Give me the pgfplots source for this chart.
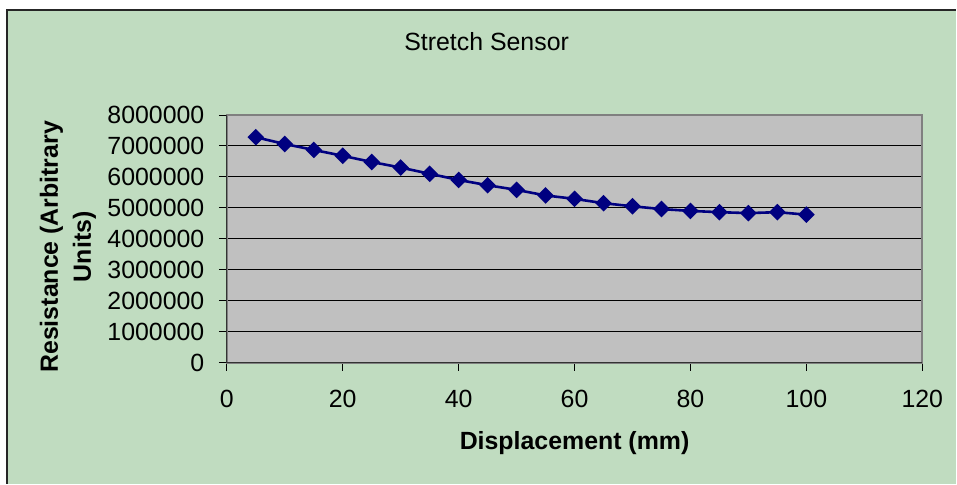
\documentclass[border=0pt]{standalone}
\usepackage{pgfplots}
\pgfplotsset{compat=1.18}
\usepackage{fontspec}
\setmainfont{Liberation Sans}
\definecolor{chartbg}{RGB}{192,220,192}
\definecolor{plotbg}{RGB}{192,192,192}
\definecolor{series}{RGB}{0,0,128}
\begin{document}
\begin{tikzpicture}
% chart area
\fill[white] (0bp,0bp) rectangle (957bp,484bp);
\fill[chartbg] (7bp,0bp) rectangle (957bp,474bp);
\draw[line width=1.5bp, black!85] (7bp,0bp) -- (7bp,474bp) -- (957bp,474bp);
\begin{axis}[
    at={(227bp,121bp)}, anchor=south west,
    scale only axis, width=696bp, height=248bp,
    xmin=0, xmax=120, ymin=0, ymax=8000000,
    xtick={0,20,...,120},
    ytick={0,1000000,...,8000000},
    scaled y ticks=false,
    yticklabel style={/pgf/number format/fixed, /pgf/number format/1000 sep={}, xshift=-11bp},
    xticklabel style={yshift=-16bp},
    /pgf/number format/assume math mode=true,
    tick label style={font=\fontsize{25}{30}\selectfont, text=black},
    tick align=outside, tick pos=left,
    major tick length=8bp,
    tick style={black, line width=0.8bp},
    axis background/.style={fill=plotbg},
    axis line style={draw=black!50, line width=1.8bp},
    ymajorgrids, major grid style={black, line width=0.9bp},
    clip=false,
]
\addplot[series, line width=2.6bp, mark=square*, mark size=4.6bp,
    mark options={rotate=45, fill=series, draw=series}]
coordinates {
    (5,7280000) (10,7060000) (15,6870000) (20,6680000) (25,6480000)
    (30,6300000) (35,6100000) (40,5900000) (45,5730000) (50,5580000)
    (55,5400000) (60,5290000) (65,5150000) (70,5050000) (75,4960000)
    (80,4900000) (85,4860000) (90,4830000) (95,4860000) (100,4780000)
};
\draw[black!80, line width=1.2bp] (rel axis cs:0,1) -- (rel axis cs:0,0) -- (rel axis cs:1,0);
\end{axis}
\node[font=\fontsize{25}{30}\selectfont] at (487bp,442bp) {Stretch Sensor};
\node[font=\fontsize{25}{30}\selectfont\bfseries] at (575bp,41bp) {Displacement (mm)};
\node[font=\fontsize{25}{33}\selectfont\bfseries, rotate=90, align=center]
    at (68bp,237bp) {Resistance (Arbitrary\\Units)};
\end{tikzpicture}
\end{document}
